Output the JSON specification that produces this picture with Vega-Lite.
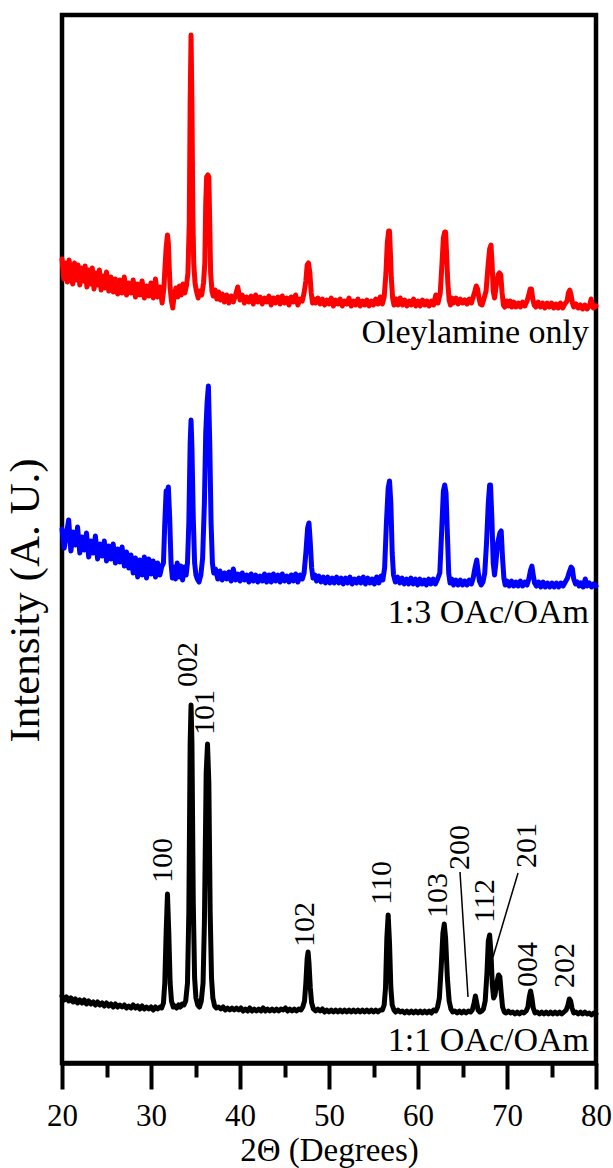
{
  "$schema": "https://vega.github.io/schema/vega-lite/v6.json",
  "width": 534,
  "height": 1048,
  "autosize": {"type": "none"},
  "padding": {"left": 62, "top": 15, "right": 17, "bottom": 105},
  "background": "white",
  "config": {
    "view": {"stroke": "black", "strokeWidth": 4.5},
    "font": "Liberation Serif"
  },
  "resolve": {"axis": {"x": "independent"}},
  "datasets": {
    "red": [
      {"x":20,"y":804},{"x":20.2,"y":784},{"x":20.4,"y":800},{"x":20.6,"y":781},{"x":20.8,"y":803},{"x":21,"y":786},{"x":21.2,"y":779},{"x":21.4,"y":800},{"x":21.6,"y":783},{"x":21.8,"y":798},{"x":22,"y":778},{"x":22.2,"y":795},{"x":22.4,"y":782},{"x":22.6,"y":797},{"x":22.8,"y":776},{"x":23,"y":793},{"x":23.2,"y":779},{"x":23.4,"y":795},{"x":23.6,"y":774},{"x":23.8,"y":790},{"x":24,"y":778},{"x":24.2,"y":793},{"x":24.4,"y":773},{"x":24.6,"y":787},{"x":24.8,"y":775},{"x":25,"y":791},{"x":25.25,"y":772},{"x":25.5,"y":786},{"x":25.75,"y":771},{"x":26,"y":784},{"x":26.25,"y":769},{"x":26.5,"y":783},{"x":26.75,"y":770},{"x":27,"y":786},{"x":27.25,"y":768},{"x":27.5,"y":780},{"x":27.75,"y":770},{"x":28,"y":783},{"x":28.25,"y":766},{"x":28.5,"y":779},{"x":28.75,"y":768},{"x":29,"y":782},{"x":29.25,"y":765},{"x":29.5,"y":777},{"x":29.75,"y":767},{"x":30,"y":780},{"x":30.25,"y":765},{"x":30.5,"y":784},{"x":30.75,"y":766},{"x":31,"y":776},{"x":31.25,"y":760},{"x":31.45,"y":775},{"x":31.6,"y":800},{"x":31.7,"y":815},{"x":31.85,"y":828},{"x":31.95,"y":820},{"x":32.05,"y":795},{"x":32.15,"y":775},{"x":32.3,"y":762},{"x":32.45,"y":755},{"x":32.6,"y":768},{"x":32.8,"y":775},{"x":33,"y":766},{"x":33.2,"y":777},{"x":33.4,"y":768},{"x":33.6,"y":779},{"x":33.8,"y":770},{"x":34,"y":778},{"x":34.15,"y":790},{"x":34.3,"y":840},{"x":34.4,"y":960},{"x":34.5,"y":1028},{"x":34.6,"y":960},{"x":34.7,"y":850},{"x":34.8,"y":800},{"x":34.95,"y":780},{"x":35.1,"y":772},{"x":35.3,"y":765},{"x":35.5,"y":772},{"x":35.7,"y":768},{"x":35.9,"y":780},{"x":36.05,"y":800},{"x":36.15,"y":860},{"x":36.25,"y":886},{"x":36.4,"y":888},{"x":36.5,"y":886},{"x":36.6,"y":840},{"x":36.7,"y":790},{"x":36.85,"y":772},{"x":37,"y":767},{"x":37.2,"y":773},{"x":37.4,"y":764},{"x":37.6,"y":771},{"x":37.8,"y":763},{"x":38,"y":769},{"x":38.25,"y":761},{"x":38.5,"y":768},{"x":38.75,"y":760},{"x":39,"y":767},{"x":39.25,"y":761},{"x":39.5,"y":768},{"x":39.75,"y":776},{"x":40,"y":763},{"x":40.25,"y":768},{"x":40.5,"y":760},{"x":40.75,"y":766},{"x":41,"y":761},{"x":41.25,"y":767},{"x":41.5,"y":759},{"x":41.75,"y":768},{"x":42,"y":761},{"x":42.25,"y":766},{"x":42.5,"y":759},{"x":42.75,"y":765},{"x":43,"y":761},{"x":43.25,"y":767},{"x":43.5,"y":758},{"x":43.75,"y":765},{"x":44,"y":760},{"x":44.25,"y":766},{"x":44.5,"y":759},{"x":44.75,"y":767},{"x":45,"y":760},{"x":45.25,"y":765},{"x":45.5,"y":758},{"x":45.75,"y":766},{"x":46,"y":761},{"x":46.25,"y":768},{"x":46.5,"y":758},{"x":46.75,"y":764},{"x":47,"y":762},{"x":47.2,"y":770},{"x":47.4,"y":782},{"x":47.55,"y":798},{"x":47.7,"y":800},{"x":47.85,"y":790},{"x":48,"y":770},{"x":48.15,"y":760},{"x":48.3,"y":764},{"x":48.5,"y":760},{"x":48.75,"y":765},{"x":49,"y":759},{"x":49.25,"y":764},{"x":49.5,"y":758},{"x":49.75,"y":763},{"x":50,"y":759},{"x":50.25,"y":765},{"x":50.5,"y":757},{"x":50.75,"y":763},{"x":51,"y":759},{"x":51.25,"y":764},{"x":51.5,"y":757},{"x":51.75,"y":762},{"x":52,"y":759},{"x":52.25,"y":765},{"x":52.5,"y":757},{"x":52.75,"y":762},{"x":53,"y":758},{"x":53.25,"y":764},{"x":53.5,"y":757},{"x":53.75,"y":762},{"x":54,"y":758},{"x":54.25,"y":763},{"x":54.5,"y":757},{"x":54.75,"y":762},{"x":55,"y":758},{"x":55.25,"y":764},{"x":55.5,"y":759},{"x":55.75,"y":766},{"x":56,"y":759},{"x":56.2,"y":766},{"x":56.4,"y":790},{"x":56.55,"y":820},{"x":56.7,"y":832},{"x":56.8,"y":832},{"x":56.9,"y":810},{"x":57,"y":785},{"x":57.15,"y":765},{"x":57.3,"y":758},{"x":57.5,"y":764},{"x":57.75,"y":758},{"x":58,"y":765},{"x":58.25,"y":758},{"x":58.5,"y":763},{"x":58.75,"y":757},{"x":59,"y":762},{"x":59.25,"y":758},{"x":59.5,"y":764},{"x":59.75,"y":757},{"x":60,"y":762},{"x":60.25,"y":757},{"x":60.5,"y":763},{"x":60.75,"y":758},{"x":61,"y":762},{"x":61.25,"y":757},{"x":61.5,"y":762},{"x":61.75,"y":758},{"x":62,"y":768},{"x":62.25,"y":760},{"x":62.5,"y":770},{"x":62.7,"y":800},{"x":62.85,"y":825},{"x":63,"y":831},{"x":63.1,"y":831},{"x":63.2,"y":812},{"x":63.35,"y":780},{"x":63.5,"y":763},{"x":63.65,"y":758},{"x":63.8,"y":765},{"x":64,"y":760},{"x":64.25,"y":765},{"x":64.5,"y":759},{"x":64.75,"y":764},{"x":65,"y":760},{"x":65.25,"y":763},{"x":65.5,"y":759},{"x":65.75,"y":764},{"x":66,"y":760},{"x":66.2,"y":766},{"x":66.4,"y":772},{"x":66.55,"y":777},{"x":66.7,"y":774},{"x":66.85,"y":765},{"x":67,"y":759},{"x":67.2,"y":758},{"x":67.4,"y":764},{"x":67.65,"y":772},{"x":67.85,"y":795},{"x":68.05,"y":814},{"x":68.2,"y":818},{"x":68.32,"y":800},{"x":68.45,"y":772},{"x":68.6,"y":765},{"x":68.8,"y":778},{"x":69,"y":788},{"x":69.15,"y":790},{"x":69.3,"y":788},{"x":69.45,"y":770},{"x":69.6,"y":758},{"x":69.75,"y":756},{"x":69.95,"y":762},{"x":70.15,"y":757},{"x":70.35,"y":762},{"x":70.55,"y":756},{"x":70.75,"y":761},{"x":71,"y":756},{"x":71.25,"y":760},{"x":71.5,"y":756},{"x":71.75,"y":761},{"x":72,"y":757},{"x":72.25,"y":762},{"x":72.45,"y":768},{"x":72.6,"y":774},{"x":72.75,"y":774},{"x":72.9,"y":764},{"x":73.05,"y":758},{"x":73.25,"y":756},{"x":73.5,"y":761},{"x":73.75,"y":756},{"x":74,"y":760},{"x":74.25,"y":755},{"x":74.5,"y":760},{"x":74.75,"y":756},{"x":75,"y":760},{"x":75.25,"y":755},{"x":75.5,"y":759},{"x":75.75,"y":755},{"x":76,"y":760},{"x":76.25,"y":755},{"x":76.5,"y":759},{"x":76.75,"y":762},{"x":76.9,"y":770},{"x":77.05,"y":773},{"x":77.2,"y":768},{"x":77.35,"y":760},{"x":77.5,"y":756},{"x":77.75,"y":759},{"x":78,"y":755},{"x":78.25,"y":758},{"x":78.5,"y":754},{"x":78.75,"y":758},{"x":79,"y":754},{"x":79.25,"y":757},{"x":79.45,"y":764},{"x":79.7,"y":755},{"x":80,"y":757}
    ],
    "blue": [
      {"x":20,"y":534},{"x":20.25,"y":515},{"x":20.5,"y":529},{"x":20.75,"y":543},{"x":21,"y":512},{"x":21.25,"y":531},{"x":21.5,"y":518},{"x":21.75,"y":536},{"x":22,"y":510},{"x":22.25,"y":526},{"x":22.5,"y":513},{"x":22.75,"y":530},{"x":23,"y":506},{"x":23.25,"y":522},{"x":23.5,"y":510},{"x":23.75,"y":527},{"x":24,"y":504},{"x":24.25,"y":519},{"x":24.5,"y":507},{"x":24.75,"y":522},{"x":25,"y":502},{"x":25.25,"y":517},{"x":25.5,"y":504},{"x":25.75,"y":519},{"x":26,"y":500},{"x":26.25,"y":514},{"x":26.5,"y":501},{"x":26.75,"y":516},{"x":27,"y":497},{"x":27.25,"y":511},{"x":27.5,"y":495},{"x":27.75,"y":508},{"x":28,"y":490},{"x":28.25,"y":505},{"x":28.5,"y":486},{"x":28.75,"y":503},{"x":29,"y":488},{"x":29.25,"y":506},{"x":29.5,"y":485},{"x":29.75,"y":504},{"x":30,"y":489},{"x":30.25,"y":502},{"x":30.5,"y":486},{"x":30.75,"y":500},{"x":31,"y":488},{"x":31.2,"y":496},{"x":31.4,"y":500},{"x":31.55,"y":540},{"x":31.7,"y":572},{"x":31.8,"y":570},{"x":31.95,"y":576},{"x":32.1,"y":545},{"x":32.25,"y":500},{"x":32.4,"y":485},{"x":32.55,"y":496},{"x":32.75,"y":484},{"x":32.95,"y":500},{"x":33.15,"y":486},{"x":33.35,"y":497},{"x":33.55,"y":483},{"x":33.75,"y":496},{"x":33.95,"y":488},{"x":34.1,"y":500},{"x":34.25,"y":540},{"x":34.4,"y":620},{"x":34.5,"y":643},{"x":34.6,"y":615},{"x":34.75,"y":545},{"x":34.9,"y":500},{"x":35.05,"y":488},{"x":35.2,"y":484},{"x":35.4,"y":481},{"x":35.6,"y":488},{"x":35.8,"y":505},{"x":36,"y":560},{"x":36.15,"y":630},{"x":36.3,"y":660},{"x":36.45,"y":677},{"x":36.6,"y":620},{"x":36.75,"y":540},{"x":36.9,"y":500},{"x":37.05,"y":490},{"x":37.25,"y":494},{"x":37.5,"y":484},{"x":37.75,"y":492},{"x":38,"y":483},{"x":38.25,"y":490},{"x":38.5,"y":484},{"x":38.75,"y":491},{"x":39,"y":482},{"x":39.25,"y":494},{"x":39.5,"y":483},{"x":39.75,"y":489},{"x":40,"y":482},{"x":40.25,"y":490},{"x":40.5,"y":483},{"x":40.75,"y":488},{"x":41,"y":481},{"x":41.25,"y":489},{"x":41.5,"y":482},{"x":41.75,"y":488},{"x":42,"y":481},{"x":42.25,"y":487},{"x":42.5,"y":482},{"x":42.75,"y":489},{"x":43,"y":481},{"x":43.25,"y":488},{"x":43.5,"y":481},{"x":43.75,"y":489},{"x":44,"y":482},{"x":44.25,"y":488},{"x":44.5,"y":481},{"x":44.75,"y":489},{"x":45,"y":482},{"x":45.25,"y":487},{"x":45.5,"y":481},{"x":45.75,"y":488},{"x":46,"y":482},{"x":46.25,"y":489},{"x":46.5,"y":481},{"x":46.75,"y":488},{"x":47,"y":484},{"x":47.2,"y":490},{"x":47.4,"y":510},{"x":47.6,"y":535},{"x":47.75,"y":540},{"x":47.9,"y":520},{"x":48.05,"y":495},{"x":48.2,"y":485},{"x":48.4,"y":488},{"x":48.6,"y":482},{"x":48.85,"y":487},{"x":49.1,"y":481},{"x":49.35,"y":486},{"x":49.6,"y":480},{"x":49.85,"y":486},{"x":50.1,"y":480},{"x":50.35,"y":485},{"x":50.6,"y":480},{"x":50.85,"y":486},{"x":51.1,"y":480},{"x":51.35,"y":485},{"x":51.6,"y":479},{"x":51.85,"y":485},{"x":52.1,"y":480},{"x":52.35,"y":486},{"x":52.6,"y":479},{"x":52.85,"y":484},{"x":53.1,"y":480},{"x":53.35,"y":485},{"x":53.6,"y":480},{"x":53.85,"y":486},{"x":54.1,"y":479},{"x":54.35,"y":485},{"x":54.6,"y":480},{"x":54.85,"y":484},{"x":55.1,"y":479},{"x":55.35,"y":486},{"x":55.6,"y":480},{"x":55.85,"y":487},{"x":56.05,"y":483},{"x":56.25,"y":495},{"x":56.45,"y":540},{"x":56.65,"y":575},{"x":56.8,"y":582},{"x":56.95,"y":560},{"x":57.1,"y":510},{"x":57.25,"y":488},{"x":57.45,"y":481},{"x":57.7,"y":486},{"x":57.95,"y":480},{"x":58.2,"y":485},{"x":58.45,"y":479},{"x":58.7,"y":484},{"x":58.95,"y":479},{"x":59.2,"y":485},{"x":59.45,"y":479},{"x":59.7,"y":484},{"x":59.95,"y":478},{"x":60.2,"y":484},{"x":60.45,"y":479},{"x":60.7,"y":483},{"x":60.95,"y":478},{"x":61.2,"y":484},{"x":61.45,"y":479},{"x":61.7,"y":484},{"x":61.95,"y":479},{"x":62.2,"y":484},{"x":62.45,"y":490},{"x":62.65,"y":530},{"x":62.85,"y":572},{"x":63,"y":578},{"x":63.15,"y":570},{"x":63.3,"y":530},{"x":63.45,"y":490},{"x":63.6,"y":480},{"x":63.8,"y":484},{"x":64,"y":478},{"x":64.25,"y":483},{"x":64.5,"y":478},{"x":64.75,"y":483},{"x":65,"y":478},{"x":65.25,"y":482},{"x":65.5,"y":478},{"x":65.75,"y":483},{"x":66,"y":479},{"x":66.2,"y":485},{"x":66.4,"y":495},{"x":66.6,"y":503},{"x":66.75,"y":492},{"x":66.9,"y":482},{"x":67.1,"y":478},{"x":67.3,"y":481},{"x":67.5,"y":490},{"x":67.7,"y":520},{"x":67.9,"y":560},{"x":68.05,"y":578},{"x":68.15,"y":578},{"x":68.3,"y":545},{"x":68.45,"y":500},{"x":68.6,"y":488},{"x":68.75,"y":500},{"x":68.95,"y":520},{"x":69.2,"y":530},{"x":69.35,"y":532},{"x":69.5,"y":505},{"x":69.65,"y":485},{"x":69.8,"y":478},{"x":70,"y":482},{"x":70.25,"y":477},{"x":70.5,"y":482},{"x":70.75,"y":477},{"x":71,"y":481},{"x":71.25,"y":477},{"x":71.5,"y":482},{"x":71.75,"y":477},{"x":72,"y":481},{"x":72.25,"y":478},{"x":72.45,"y":484},{"x":72.65,"y":493},{"x":72.8,"y":497},{"x":72.95,"y":488},{"x":73.1,"y":480},{"x":73.3,"y":477},{"x":73.55,"y":481},{"x":73.8,"y":476},{"x":74.05,"y":481},{"x":74.3,"y":476},{"x":74.55,"y":480},{"x":74.8,"y":476},{"x":75.05,"y":480},{"x":75.3,"y":476},{"x":75.55,"y":480},{"x":75.8,"y":476},{"x":76.05,"y":480},{"x":76.3,"y":477},{"x":76.55,"y":481},{"x":76.8,"y":485},{"x":77,"y":491},{"x":77.2,"y":496},{"x":77.35,"y":494},{"x":77.5,"y":484},{"x":77.7,"y":479},{"x":77.9,"y":481},{"x":78.1,"y":477},{"x":78.3,"y":480},{"x":78.55,"y":476},{"x":78.8,"y":484},{"x":79,"y":477},{"x":79.25,"y":480},{"x":79.5,"y":476},{"x":79.75,"y":479},{"x":80,"y":477}
    ],
    "black": [
      {"x":20,"y":67},{"x":20.25,"y":63},{"x":20.5,"y":66},{"x":20.75,"y":62},{"x":21,"y":65},{"x":21.25,"y":61},{"x":21.5,"y":64},{"x":21.75,"y":60},{"x":22,"y":63},{"x":22.25,"y":60},{"x":22.5,"y":63},{"x":22.75,"y":59},{"x":23,"y":62},{"x":23.25,"y":59},{"x":23.5,"y":61},{"x":23.75,"y":58},{"x":24,"y":61},{"x":24.25,"y":58},{"x":24.5,"y":60},{"x":24.75,"y":57},{"x":25,"y":60},{"x":25.25,"y":57},{"x":25.5,"y":59},{"x":25.75,"y":56},{"x":26,"y":59},{"x":26.25,"y":56},{"x":26.5,"y":58},{"x":26.75,"y":56},{"x":27,"y":58},{"x":27.25,"y":55},{"x":27.5,"y":57},{"x":27.75,"y":55},{"x":28,"y":58},{"x":28.25,"y":55},{"x":28.5,"y":57},{"x":28.75,"y":54},{"x":29,"y":57},{"x":29.25,"y":54},{"x":29.5,"y":56},{"x":29.75,"y":54},{"x":30,"y":56},{"x":30.25,"y":53},{"x":30.5,"y":56},{"x":30.75,"y":54},{"x":31,"y":56},{"x":31.2,"y":55},{"x":31.4,"y":60},{"x":31.55,"y":80},{"x":31.7,"y":130},{"x":31.85,"y":169},{"x":32,"y":130},{"x":32.15,"y":80},{"x":32.3,"y":62},{"x":32.5,"y":56},{"x":32.7,"y":57},{"x":32.9,"y":55},{"x":33.1,"y":58},{"x":33.3,"y":56},{"x":33.5,"y":59},{"x":33.7,"y":58},{"x":33.9,"y":62},{"x":34.1,"y":80},{"x":34.25,"y":150},{"x":34.4,"y":320},{"x":34.5,"y":358},{"x":34.6,"y":320},{"x":34.75,"y":160},{"x":34.9,"y":85},{"x":35.05,"y":65},{"x":35.25,"y":58},{"x":35.45,"y":56},{"x":35.65,"y":62},{"x":35.85,"y":80},{"x":36,"y":140},{"x":36.2,"y":290},{"x":36.35,"y":319},{"x":36.5,"y":280},{"x":36.65,"y":150},{"x":36.8,"y":85},{"x":36.95,"y":65},{"x":37.15,"y":57},{"x":37.35,"y":55},{"x":37.6,"y":56},{"x":37.85,"y":54},{"x":38.1,"y":56},{"x":38.35,"y":53},{"x":38.6,"y":55},{"x":38.85,"y":53},{"x":39.1,"y":55},{"x":39.35,"y":53},{"x":39.6,"y":55},{"x":39.85,"y":53},{"x":40.1,"y":55},{"x":40.35,"y":52},{"x":40.6,"y":54},{"x":40.85,"y":52},{"x":41.1,"y":55},{"x":41.35,"y":52},{"x":41.6,"y":54},{"x":41.85,"y":52},{"x":42.1,"y":54},{"x":42.35,"y":52},{"x":42.6,"y":55},{"x":42.85,"y":52},{"x":43.1,"y":54},{"x":43.35,"y":52},{"x":43.6,"y":54},{"x":43.85,"y":52},{"x":44.1,"y":54},{"x":44.35,"y":52},{"x":44.6,"y":54},{"x":44.85,"y":53},{"x":45.1,"y":55},{"x":45.35,"y":52},{"x":45.6,"y":54},{"x":45.85,"y":52},{"x":46.1,"y":54},{"x":46.35,"y":52},{"x":46.6,"y":54},{"x":46.85,"y":53},{"x":47.05,"y":56},{"x":47.25,"y":62},{"x":47.4,"y":80},{"x":47.55,"y":105},{"x":47.65,"y":111},{"x":47.75,"y":100},{"x":47.9,"y":75},{"x":48.05,"y":60},{"x":48.25,"y":54},{"x":48.5,"y":52},{"x":48.75,"y":54},{"x":49,"y":52},{"x":49.25,"y":54},{"x":49.5,"y":51},{"x":49.75,"y":53},{"x":50,"y":51},{"x":50.25,"y":53},{"x":50.5,"y":51},{"x":50.75,"y":53},{"x":51,"y":51},{"x":51.25,"y":53},{"x":51.5,"y":51},{"x":51.75,"y":53},{"x":52,"y":51},{"x":52.25,"y":53},{"x":52.5,"y":51},{"x":52.75,"y":53},{"x":53,"y":51},{"x":53.25,"y":53},{"x":53.5,"y":51},{"x":53.75,"y":53},{"x":54,"y":51},{"x":54.25,"y":53},{"x":54.5,"y":51},{"x":54.75,"y":53},{"x":55,"y":51},{"x":55.25,"y":53},{"x":55.5,"y":51},{"x":55.75,"y":53},{"x":56,"y":53},{"x":56.2,"y":58},{"x":56.35,"y":75},{"x":56.5,"y":125},{"x":56.65,"y":148},{"x":56.8,"y":120},{"x":56.95,"y":75},{"x":57.1,"y":58},{"x":57.3,"y":53},{"x":57.5,"y":51},{"x":57.75,"y":53},{"x":58,"y":51},{"x":58.25,"y":52},{"x":58.5,"y":50},{"x":58.75,"y":52},{"x":59,"y":50},{"x":59.25,"y":52},{"x":59.5,"y":50},{"x":59.75,"y":52},{"x":60,"y":50},{"x":60.25,"y":52},{"x":60.5,"y":50},{"x":60.75,"y":52},{"x":61,"y":50},{"x":61.25,"y":52},{"x":61.5,"y":50},{"x":61.75,"y":53},{"x":62,"y":52},{"x":62.2,"y":56},{"x":62.4,"y":65},{"x":62.6,"y":95},{"x":62.8,"y":130},{"x":62.95,"y":139},{"x":63.1,"y":125},{"x":63.3,"y":85},{"x":63.5,"y":62},{"x":63.7,"y":54},{"x":63.9,"y":51},{"x":64.15,"y":52},{"x":64.4,"y":50},{"x":64.65,"y":52},{"x":64.9,"y":50},{"x":65.15,"y":52},{"x":65.4,"y":50},{"x":65.65,"y":52},{"x":65.9,"y":51},{"x":66.1,"y":53},{"x":66.3,"y":60},{"x":66.45,"y":67},{"x":66.6,"y":60},{"x":66.75,"y":53},{"x":66.95,"y":51},{"x":67.15,"y":52},{"x":67.35,"y":54},{"x":67.55,"y":62},{"x":67.75,"y":90},{"x":67.9,"y":122},{"x":68.05,"y":128},{"x":68.2,"y":110},{"x":68.35,"y":78},{"x":68.5,"y":65},{"x":68.65,"y":68},{"x":68.85,"y":80},{"x":69.05,"y":88},{"x":69.2,"y":86},{"x":69.35,"y":70},{"x":69.5,"y":56},{"x":69.7,"y":51},{"x":69.9,"y":50},{"x":70.15,"y":52},{"x":70.4,"y":50},{"x":70.65,"y":51},{"x":70.9,"y":49},{"x":71.15,"y":51},{"x":71.4,"y":49},{"x":71.65,"y":51},{"x":71.9,"y":50},{"x":72.15,"y":52},{"x":72.35,"y":56},{"x":72.5,"y":66},{"x":72.65,"y":72},{"x":72.8,"y":65},{"x":72.95,"y":55},{"x":73.15,"y":50},{"x":73.4,"y":51},{"x":73.65,"y":49},{"x":73.9,"y":51},{"x":74.15,"y":49},{"x":74.4,"y":51},{"x":74.65,"y":49},{"x":74.9,"y":51},{"x":75.15,"y":49},{"x":75.4,"y":51},{"x":75.65,"y":49},{"x":75.9,"y":51},{"x":76.15,"y":49},{"x":76.4,"y":51},{"x":76.65,"y":53},{"x":76.85,"y":58},{"x":77,"y":64},{"x":77.15,"y":62},{"x":77.3,"y":55},{"x":77.5,"y":50},{"x":77.75,"y":51},{"x":78,"y":49},{"x":78.25,"y":51},{"x":78.5,"y":49},{"x":78.75,"y":51},{"x":79,"y":49},{"x":79.25,"y":50},{"x":79.5,"y":48},{"x":79.75,"y":50},{"x":80,"y":49}
    ],
    "hkl": [
      {"x":31.35,"y":180,"label":"100"},
      {"x":34.16,"y":376,"label":"002"},
      {"x":36.1,"y":328,"label":"101"},
      {"x":47.3,"y":116,"label":"102"},
      {"x":55.96,"y":158,"label":"110"},
      {"x":62.25,"y":145,"label":"103"},
      {"x":64.72,"y":193,"label":"200"},
      {"x":67.53,"y":140,"label":"112"},
      {"x":72.25,"y":195,"label":"201"},
      {"x":72.36,"y":76,"label":"004"},
      {"x":76.52,"y":75,"label":"202"}
    ],
    "leaders": [
      {"x":64.72,"y":191,"x2":65.62,"y2":66},
      {"x":71.24,"y":190,"x2":68.43,"y2":106}
    ],
    "samples": [
      {"x":80,"y":720,"label":"Oleylamine only"},
      {"x":80,"y":440,"label":"1:3 OAc/OAm"},
      {"x":80,"y":12,"label":"1:1 OAc/OAm"}
    ]
  },
  "layer": [
    {
      "data": {"name": "red"},
      "mark": {"type": "line", "color": "#ff0000", "strokeWidth": 5, "strokeJoin": "round", "strokeCap": "round"},
      "encoding": {
        "x": {
          "field": "x", "type": "quantitative",
          "scale": {"domain": [20, 80], "nice": false, "zero": false},
          "axis": {
            "orient": "bottom",
            "values": [20,30,40,50,60,70,80],
            "tickSize": 26, "tickWidth": 4, "tickColor": "black",
            "domainColor": "black", "domainWidth": 4.5,
            "grid": false,
            "labelFont": "Liberation Serif", "labelFontSize": 31, "labelColor": "black",
            "labelPadding": 12, "labelFlush": false, "labelOverlap": false,
            "title": "2Θ (Degrees)",
            "titleFont": "Liberation Serif", "titleFontSize": 33, "titleFontWeight": "normal",
            "titleColor": "black", "titleBaseline": "alphabetic", "titleY": 97, "titleX": 267,
            "titleAnchor": "middle"
          }
        },
        "y": {
          "field": "y", "type": "quantitative",
          "scale": {"domain": [0, 1048], "nice": false, "zero": false},
          "axis": {
            "ticks": false, "labels": false, "domain": false, "grid": false,
            "title": "Intensity (A. U.)",
            "titleFont": "Liberation Serif", "titleFontSize": 43, "titleFontWeight": "normal",
            "titleColor": "black", "titleX": -37, "titleY": 585, "titleAngle": 270,
            "titleAlign": "center", "titleBaseline": "middle"
          }
        }
      }
    },
    {
      "data": {"name": "blue"},
      "mark": {"type": "line", "color": "#0000ff", "strokeWidth": 5, "strokeJoin": "round", "strokeCap": "round"},
      "encoding": {
        "x": {
          "field": "x", "type": "quantitative",
          "axis": {
            "orient": "bottom",
            "values": [25,35,45,55,65,75],
            "tickSize": 14, "tickWidth": 4, "tickColor": "black",
            "domain": false, "labels": false, "grid": false, "title": null
          }
        },
        "y": {"field": "y", "type": "quantitative"}
      }
    },
    {
      "data": {"name": "black"},
      "mark": {"type": "line", "color": "#000000", "strokeWidth": 5, "strokeJoin": "round", "strokeCap": "round"},
      "encoding": {
        "x": {"field": "x", "type": "quantitative", "axis": null},
        "y": {"field": "y", "type": "quantitative"}
      }
    },
    {
      "data": {"name": "leaders"},
      "mark": {"type": "rule", "color": "black", "strokeWidth": 1.5},
      "encoding": {
        "x": {"field": "x", "type": "quantitative", "axis": null},
        "y": {"field": "y", "type": "quantitative"},
        "x2": {"field": "x2"},
        "y2": {"field": "y2"}
      }
    },
    {
      "data": {"name": "hkl"},
      "mark": {"type": "text", "angle": 270, "align": "left", "baseline": "middle", "font": "Liberation Serif", "fontSize": 30, "color": "black"},
      "encoding": {
        "x": {"field": "x", "type": "quantitative", "axis": null},
        "y": {"field": "y", "type": "quantitative"},
        "text": {"field": "label"}
      }
    },
    {
      "data": {"name": "samples"},
      "mark": {"type": "text", "align": "right", "baseline": "alphabetic", "dx": -7, "font": "Liberation Serif", "fontSize": 34, "color": "black"},
      "encoding": {
        "x": {"field": "x", "type": "quantitative", "axis": null},
        "y": {"field": "y", "type": "quantitative"},
        "text": {"field": "label"}
      }
    }
  ]
}
